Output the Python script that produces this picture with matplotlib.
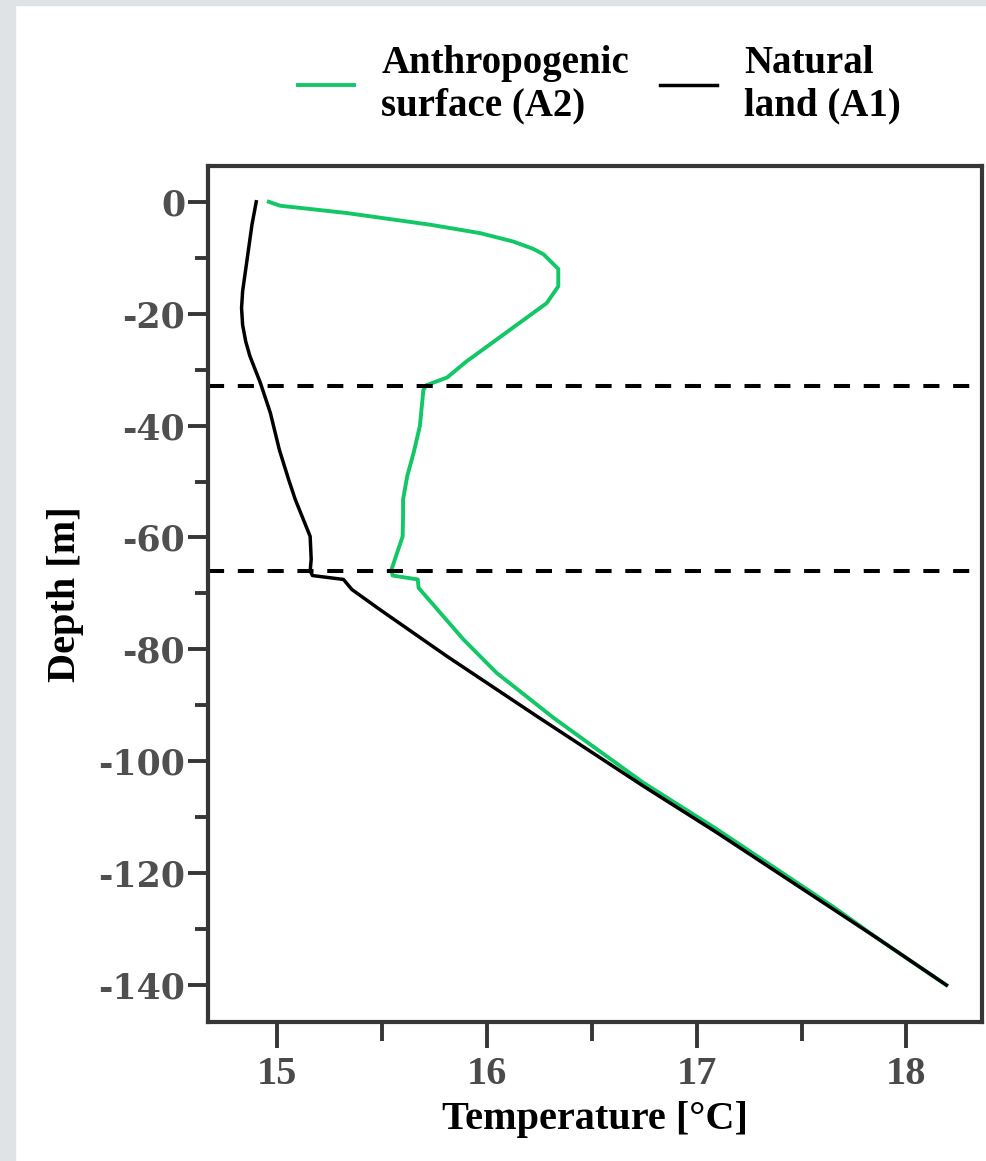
import matplotlib
matplotlib.use('Agg')
import matplotlib.pyplot as plt
from matplotlib.patches import Rectangle

# Temperature profiles
natural_temp = [14.90, 14.88, 14.865, 14.85, 14.835, 14.83, 14.835, 14.85, 14.87, 14.895,
                14.92, 14.967, 15.01, 15.054, 15.086, 15.157, 15.162, 15.157, 15.168,
                15.316, 15.356, 15.49, 15.808, 16.236, 16.744, 17.094, 17.856, 18.19]
natural_depth = [0, -4, -8, -12, -16, -19, -22, -25, -27.6, -30,
                 -32.4, -37.7, -44.3, -49.6, -53.2, -59.8, -63.9, -66.0, -66.8,
                 -67.5, -69.3, -72.9, -81.2, -91.9, -104.4, -112.7, -131.5, -140]

anthro_temp = [14.96, 15.014, 15.33, 15.73, 15.967, 16.125, 16.22, 16.27, 16.34, 16.34,
               16.285, 15.90, 15.81, 15.71, 15.697, 15.68, 15.65, 15.62, 15.60, 15.60,
               15.598, 15.545, 15.55, 15.67, 15.674, 15.776, 15.887, 16.046, 16.205,
               16.316, 16.744, 17.094, 17.65, 17.856, 18.19]
anthro_depth = [0, -0.7, -2.0, -4.1, -5.6, -7.1, -8.4, -9.4, -12.0, -15.1,
                -18.1, -28.6, -31.4, -32.8, -33.6, -40.1, -44.9, -49.0, -53.2, -56.0,
                -59.8, -65.7, -66.8, -67.5, -69.0, -73.4, -78.2, -84.2, -88.9,
                -92.2, -103.8, -112.1, -126.0, -131.5, -140]

layer_bounds = [-33, -66]

x_major = [15, 16, 17, 18]
x_minor = [15.5, 16.5, 17.5]
y_major = [0, -20, -40, -60, -80, -100, -120, -140]
y_minor = [-10, -30, -50, -70, -90, -110, -130]

green = '#12c765'
spine_col = '#363636'
label_font = 'Liberation Serif'

fig = plt.figure(figsize=(9.86, 11.61), dpi=100)
fig.patch.set_facecolor('white')
# grey page border strips on the left and top
fig.patches.append(Rectangle((0, 0), 15 / 986, 1, transform=fig.transFigure,
                             color='#dfe3e6', zorder=0))
fig.patches.append(Rectangle((0, 1 - 5 / 1161), 1, 5 / 1161, transform=fig.transFigure,
                             color='#dfe3e6', zorder=0))

ax = fig.add_axes([208 / 986, 139 / 1161, 774 / 986, 856 / 1161])

ax.plot(anthro_temp, anthro_depth, color=green, lw=2.8, label='Anthropogenic\nsurface (A2)')
ax.plot(natural_temp, natural_depth, color='black', lw=2.5, label='Natural\nland (A1)')
for d in layer_bounds:
    ax.axhline(d, color='black', lw=2.9, dashes=(4, 3.4))

ax.set_xlim(14.67, 18.36)
ax.set_ylim(-146.6, 6.4)

ax.set_xticks(x_major)
ax.set_xticks(x_minor, minor=True)
ax.set_yticks(y_major)
ax.set_yticks(y_minor, minor=True)

ax.set_xticklabels([str(v) for v in x_major], fontfamily=label_font, fontweight='bold',
                   fontsize=29, color='#4a4a4a')
ax.set_yticklabels([str(v) for v in y_major], fontfamily='DejaVu Serif', fontweight='bold',
                   fontsize=25, color='#4f4f4f')

ax.tick_params(axis='x', which='major', length=18.5, width=2.8, color=spine_col, pad=6)
ax.tick_params(axis='x', which='minor', length=13.5, width=2.8, color=spine_col)
ax.tick_params(axis='y', which='major', length=14.5, width=2.8, color=spine_col, pad=2)
ax.tick_params(axis='y', which='minor', length=9.5, width=2.8, color=spine_col)

for s in ax.spines.values():
    s.set_linewidth(3.0)
    s.set_color(spine_col)

ax.set_xlabel('Temperature [°C]', fontfamily=label_font, fontweight='bold', fontsize=29,
              labelpad=6)
ax.set_ylabel('Depth [m]', fontfamily=label_font, fontweight='bold', fontsize=29,
              labelpad=10)

leg = ax.legend(loc='lower right', bbox_to_anchor=(0.915, 1.03), ncol=2, frameon=False,
                prop={'family': label_font, 'weight': 'bold', 'size': 28},
                handlelength=1.45, handletextpad=0.7, columnspacing=0.8,
                borderaxespad=0)

fig.savefig('out.png', dpi=100)
